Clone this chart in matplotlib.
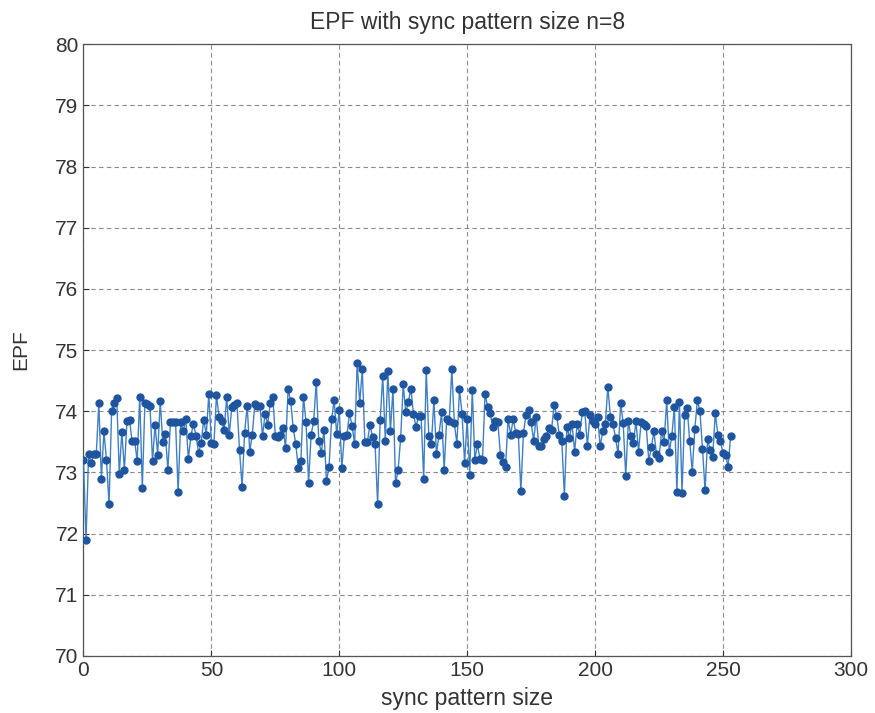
import numpy as np
import matplotlib
matplotlib.use("Agg")
import matplotlib.pyplot as plt

title = "EPF with sync pattern size n=8"
xlabel = "sync pattern size"
ylabel = "EPF"
xticks = [0, 50, 100, 150, 200, 250, 300]
yticks = [70, 71, 72, 73, 74, 75, 76, 77, 78, 79, 80]

epf = [
    73.2, 71.9, 73.3, 73.15, 73.3, 73.3, 74.13, 72.9, 73.67, 73.2, 72.48, 74.0, 74.13, 74.22, 72.98, 73.66,
    73.04, 73.84, 73.86, 73.51, 73.52, 73.19, 74.24, 72.74, 74.13, 74.12, 74.09, 73.19, 73.78, 73.29, 74.16,
    73.5, 73.63,
    73.04, 73.82, 73.82, 73.82, 72.68, 73.82, 73.67, 73.87, 73.22, 73.6, 73.79, 73.6, 73.32, 73.48, 73.86,
    73.62, 74.28, 73.48, 73.47, 74.26, 73.9, 73.84, 73.7, 74.23, 73.62, 74.07, 74.11, 74.13, 73.37, 72.77,
    73.65, 74.09, 73.34, 73.62, 74.12, 74.09, 74.08, 73.6, 73.96, 73.78, 74.13, 74.24, 73.6, 73.58, 73.62,
    73.72, 73.4, 74.36, 74.17, 73.72, 73.46, 73.07, 73.19, 74.24, 73.82, 72.83, 73.62, 73.84, 74.48, 73.51,
    73.32, 73.69, 72.86,
    73.09, 73.87, 74.18, 73.63, 74.02, 73.07, 73.6, 73.61, 73.97, 73.76, 73.47, 74.79, 74.13, 74.69, 73.5,
    73.5, 73.78, 73.58, 73.46, 72.48, 73.86, 74.58, 73.52, 74.65, 73.68, 74.37, 72.82, 73.04, 73.56, 74.44,
    73.98,
    74.15, 74.37, 73.96, 73.74, 73.93, 73.93, 72.89, 74.67, 73.6, 73.46, 74.18, 73.3, 73.62, 73.98, 73.04,
    73.87, 73.84, 74.69, 73.8, 73.47, 74.36, 73.96, 73.15, 73.87, 72.96, 74.34, 73.21, 73.46, 73.22, 73.21,
    74.29,
    74.07, 73.97, 73.74, 73.84, 73.82, 73.29, 73.17, 73.09, 73.87, 73.62, 73.87, 73.65, 73.63, 72.69, 73.65,
    73.94, 74.02, 73.82, 73.52, 73.91, 73.44, 73.43, 73.54, 73.59, 73.73, 73.7, 74.11, 73.93, 73.62, 73.52,
    72.62, 73.74, 73.57,
    73.79, 73.34, 73.79, 73.62, 73.98, 74.0, 73.43, 73.94, 73.84, 73.79, 73.9, 73.43, 73.67, 73.79, 74.4,
    73.91, 73.79, 73.57, 73.3, 74.13, 73.8, 72.94, 73.84, 73.59, 73.48, 73.84, 73.34, 73.82, 73.79, 73.76,
    73.19, 73.41, 73.67, 73.3,
    73.23, 73.67, 73.5, 74.18, 73.33, 73.59, 74.07, 72.68, 74.15, 72.67, 73.94, 74.06, 73.51, 73.01, 73.71,
    74.18, 74.0, 73.39, 72.71, 73.54, 73.37, 73.26, 73.97, 73.62, 73.52, 73.32, 73.29, 73.09, 73.59,
]
x = np.arange(len(epf))

plt.rcParams['font.family'] = ['Liberation Sans', 'DejaVu Sans']

fig = plt.figure(figsize=(8.75, 7.13), dpi=100)
ax = fig.add_axes([0.0954, 0.080, 0.877, 0.858])

ax.plot(x, epf, '-', color='#3f7fc4', lw=1.0, marker='o', markersize=5,
        markerfacecolor='#1f559f', markeredgecolor='#1f559f', zorder=3)

ax.set_xlim(0, 300)
ax.set_ylim(70, 80)
ax.set_xticks(xticks)
ax.set_yticks(yticks)
ax.tick_params(labelsize=15, colors='#333333', direction='in', length=4)
ax.grid(True, linestyle=(0, (4, 3)), color='#8a8a8a', lw=0.8)
for s in ax.spines.values():
    s.set_color('#555555')
    s.set_linewidth(0.9)

ax.set_title(title, fontsize=16.5, color='#333333', pad=11)
ax.set_xlabel(xlabel, fontsize=16.5, color='#333333', labelpad=5)
ax.set_ylabel(ylabel, fontsize=15, color='#333333', labelpad=18)

fig.savefig('out.png', dpi=100, facecolor='white')
